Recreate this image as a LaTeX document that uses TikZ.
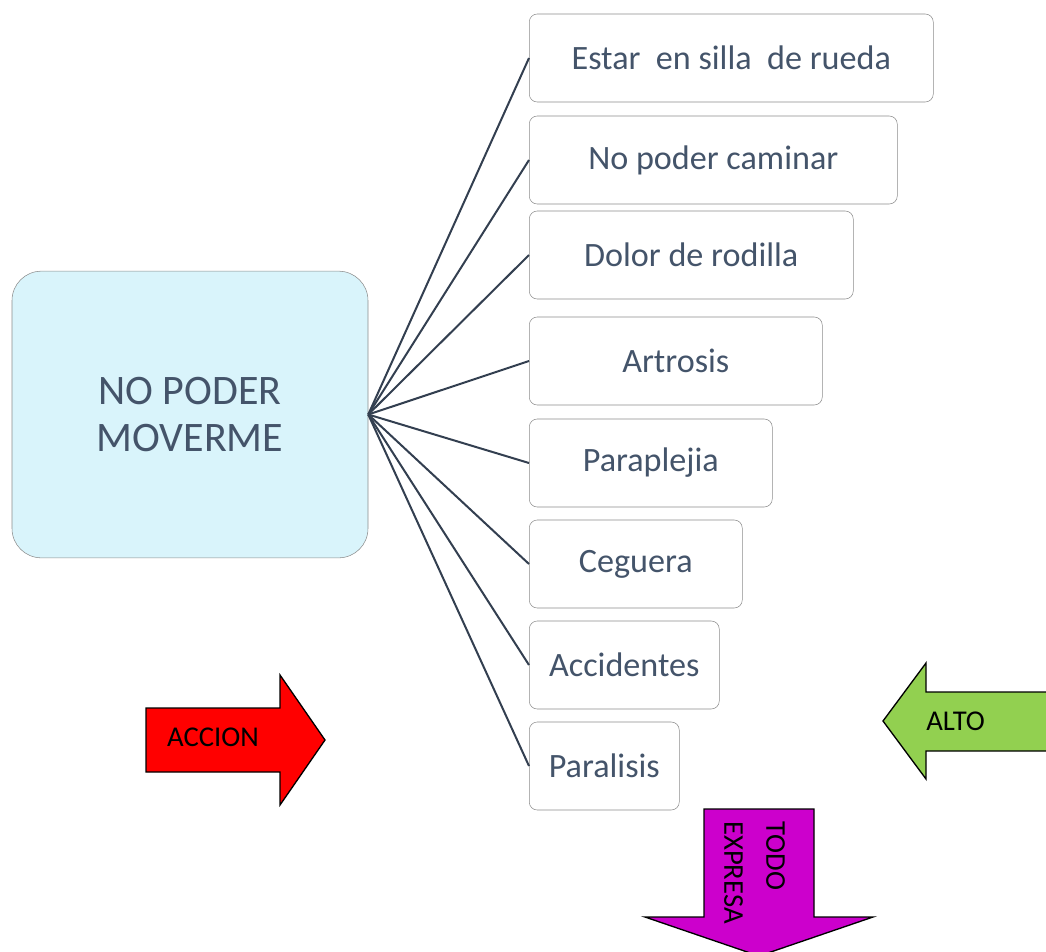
\documentclass[tikz,border=0pt]{standalone}
\usepackage{fontspec}
\setmainfont{Carlito}
\usetikzlibrary{arrows,shapes}
\definecolor{slate}{HTML}{44546A}
\definecolor{linkcol}{HTML}{333F50}
\definecolor{paleblue}{HTML}{D9F4FB}
\definecolor{accionred}{HTML}{FF0000}
\definecolor{altogreen}{HTML}{92D050}
\definecolor{todopurple}{HTML}{CC00CC}
\tikzstyle{cause}=[draw=black!45,rounded corners=6pt,fill=white,text=slate,minimum height=66pt,inner sep=0pt,font=\fontsize{25.6}{30}\selectfont]
\tikzstyle{problem}=[cause,fill=paleblue,rounded corners=22pt,align=center,font=\fontsize{31.5}{35}\selectfont]
\tikzstyle{edge}=[draw,line width=1.5pt,linkcol]
\tikzstyle{block arrow}=[draw=black,line width=1pt]
\tikzstyle{arrow label}=[inner sep=0pt,text=black,font=\fontsize{21.5}{31.5}\selectfont]

\begin{document}
\begin{tikzpicture}[x=0.75pt,y=-0.75pt]
    \useasboundingbox (0,0) rectangle (1046,951);
    \clip (0,0) rectangle (1046,951);

    % First we draw the main problem and its causes
    \node[problem,minimum width=267pt,minimum height=215pt] (problem) at (190,414.5) {NO PODER\\MOVERME};

    \foreach \y/\w/\name/\txt in {58/404/silla/Estar\ \ en silla\ \ de rueda, 160/368/caminar/No poder caminar,
        255/324/rodilla/Dolor de rodilla, 361/293/artrosis/Artrosis, 463/243/paraplejia/Paraplejia,
        564/213/ceguera/Ceguera, 665/190/accidentes/Accidentes, 766/150/paralisis/Paralisis}
        \node[cause,anchor=west,minimum width=\w*0.75pt] (\name) at (529,\y) {\txt};

    % Connect the problem with every cause
    \foreach \dest in {silla,caminar,rodilla,artrosis,paraplejia,ceguera,accidentes,paralisis}
        \path[edge] (problem.east) -- (\dest.west);

    % Block arrows
    \path[block arrow,fill=accionred] (146,708) -- (280,708) -- (280,675) -- (325,740) -- (280,805) -- (280,772) -- (146,772) -- cycle;
    \node[arrow label] (accion) at (213,737.5) {ACCION};

    \path[block arrow,fill=altogreen] (1060,692) -- (926,692) -- (926,663) -- (883,721) -- (926,779) -- (926,751) -- (1060,751) -- cycle;
    \node[arrow label,anchor=west] (alto) at (926,721) {ALTO};

    \path[block arrow,fill=todopurple] (704,809) -- (814,809) -- (814,917) -- (873,917) -- (759,956) -- (645,917) -- (704,917) -- cycle;
    \node[arrow label,rotate=-90,align=left] (todo) at (754.5,872.5) {TODO\\EXPRESA};
\end{tikzpicture}
\end{document}
